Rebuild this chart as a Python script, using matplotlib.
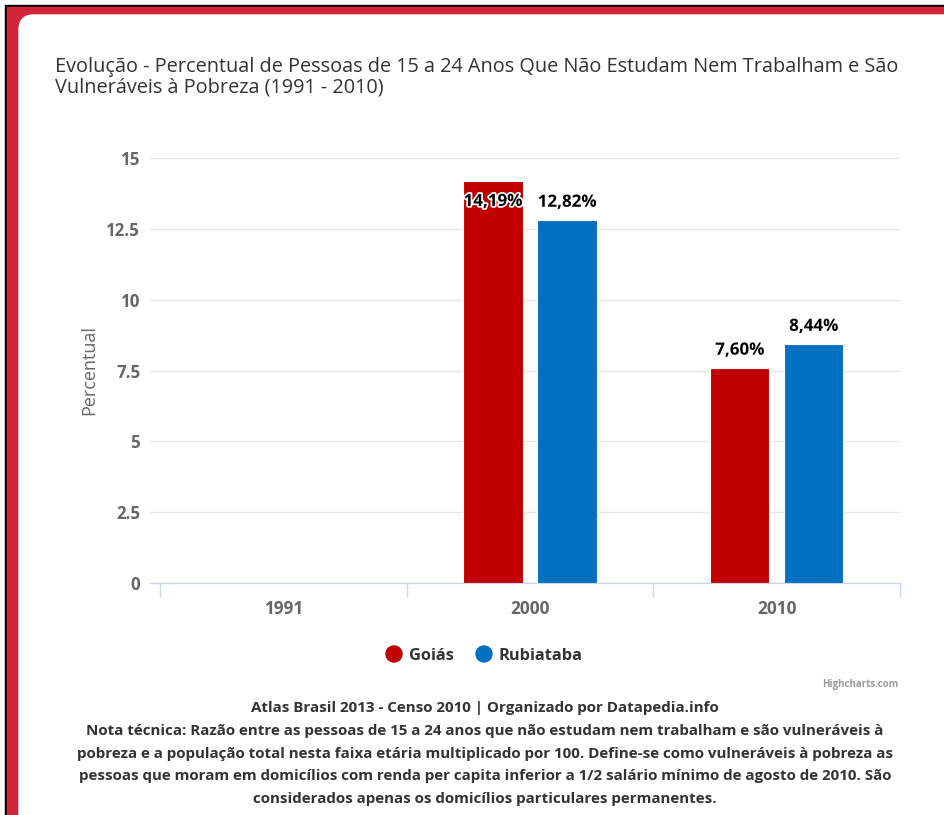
import matplotlib
matplotlib.use("Agg")
import matplotlib.pyplot as plt
import matplotlib.patheffects as pe
from matplotlib.patches import FancyBboxPatch, Rectangle, Circle

categories = ["1991", "2000", "2010"]
series_names = ["Goiás", "Rubiataba"]
goias = [None, 14.19, 7.60]
rubiataba = [None, 12.82, 8.44]
yticks = [0, 2.5, 5, 7.5, 10, 12.5, 15]
ytick_labels = ["0", "2.5", "5", "7.5", "10", "12.5", "15"]
colors = ["#c00000", "#0070c0"]

title = ("Evolução - Percentual de Pessoas de 15 a 24 Anos Que Não Estudam Nem Trabalham e São\n"
         "Vulneráveis à Pobreza (1991 - 2010)")
footer_lines = [
    "Atlas Brasil 2013 - Censo 2010 | Organizado por Datapedia.info",
    "Nota técnica: Razão entre as pessoas de 15 a 24 anos que não estudam nem trabalham e são vulneráveis à",
    "pobreza e a população total nesta faixa etária multiplicado por 100. Define-se como vulneráveis à pobreza as",
    "pessoas que moram em domicílios com renda per capita inferior a 1/2 salário mínimo de agosto de 2010. São",
    "considerados apenas os domicílios particulares permanentes.",
]

W, H = 945, 815
fig = plt.figure(figsize=(W / 100, H / 100), dpi=100)
plt.rcParams['font.family'] = ['Open Sans', 'DejaVu Sans']

# background in pixel coordinates
bg = fig.add_axes([0, 0, 1, 1], zorder=0)
bg.set_xlim(0, W)
bg.set_ylim(H, 0)
bg.axis("off")
bg.add_patch(Rectangle((0, 0), W, H, color="white", zorder=0))
bg.add_patch(Rectangle((5, 5), W, H, color="black", zorder=1))
bg.add_patch(Rectangle((7, 7), W, H, color="#d2253a", zorder=2))
bg.add_patch(FancyBboxPatch((34, 30), W + 100, H + 100,
                            boxstyle="round,pad=15,rounding_size=15",
                            color="white", zorder=3))

bg.text(55, 57, title, fontsize=14.3, color="#333333", va="top", ha="left",
        linespacing=1.02, zorder=5)

# legend
lx = [394, 484]
for i, name in enumerate(series_names):
    bg.add_patch(Circle((lx[i], 654), 8, color=colors[i], zorder=5))
    bg.text(lx[i] + 15, 656, name, fontsize=11.8, fontweight="bold", color="#333333",
            va="center", ha="left", zorder=5)

bg.text(898, 685, "Highcharts.com", fontsize=7, color="#999999", ha="right",
        va="center", fontweight="bold", zorder=5)

for j, line in enumerate(footer_lines):
    bg.text(485, 708 + j * 22.8, line, fontsize=10.9, fontweight="bold", color="#333333",
            ha="center", va="center", zorder=5)

# chart axes: plot area from x=150..900, y=158..583 px
left, right, top, bottom = 150, 900, 158, 583
ax = fig.add_axes([left / W, 1 - bottom / H, (right - left) / W, (bottom - top) / H], zorder=2)
ax.patch.set_alpha(0)
px_per_unit = (900 - 160) / 3.0
ax.set_xlim(-0.5 - 10 / px_per_unit, 2.5)
ax.set_ylim(0, 15)

bw = 0.24
offsets = [-0.15, 0.15]
yscale = (bottom - top) / 15.0
for s, vals in enumerate([goias, rubiataba]):
    for i, v in enumerate(vals):
        if v is None:
            continue
        x = i + offsets[s]
        ax.bar(x, v, width=bw, color=colors[s], edgecolor="white", linewidth=0.8, zorder=3)
        label_px = 18
        if (15 - v) * yscale < 30:
            label_px = -20
        ax.annotate(f"{v:.2f}%".replace(".", ","), (x, v), xytext=(0, label_px * 0.72),
                    textcoords="offset points", ha="center", va="center", fontsize=12.2,
                    fontweight="bold", color="black", zorder=5,
                    path_effects=[pe.withStroke(linewidth=2.5, foreground="white")])

ax.set_yticks(yticks)
ax.set_yticklabels(ytick_labels)
ax.grid(axis="y", color="#e6e6e6", linewidth=1, zorder=0)
ax.set_axisbelow(True)
ax.tick_params(axis="y", length=0, pad=7, labelsize=12.2, labelcolor="#666666")
for lab in ax.get_yticklabels():
    lab.set_fontweight("bold")
ax.set_xticks([-0.5, 0.5, 1.5, 2.5], minor=False)
ax.set_xticklabels([])
ax.set_xticks([0, 1, 2], minor=True)
ax.set_xticklabels(categories, minor=True)
ax.tick_params(axis="x", which="major", length=10, color="#ccd6eb", width=1)
ax.tick_params(axis="x", which="minor", length=0, pad=12, labelsize=12.4, labelcolor="#666666")
for lab in ax.get_xticklabels(minor=True):
    lab.set_fontweight("bold")
for sp in ["top", "right", "left"]:
    ax.spines[sp].set_visible(False)
ax.spines["bottom"].set_color("#ccd6eb")
ax.spines["bottom"].set_linewidth(1)
ax.set_ylabel("Percentual", fontsize=13, color="#666666", labelpad=6)

fig.savefig("out.png", dpi=100)
